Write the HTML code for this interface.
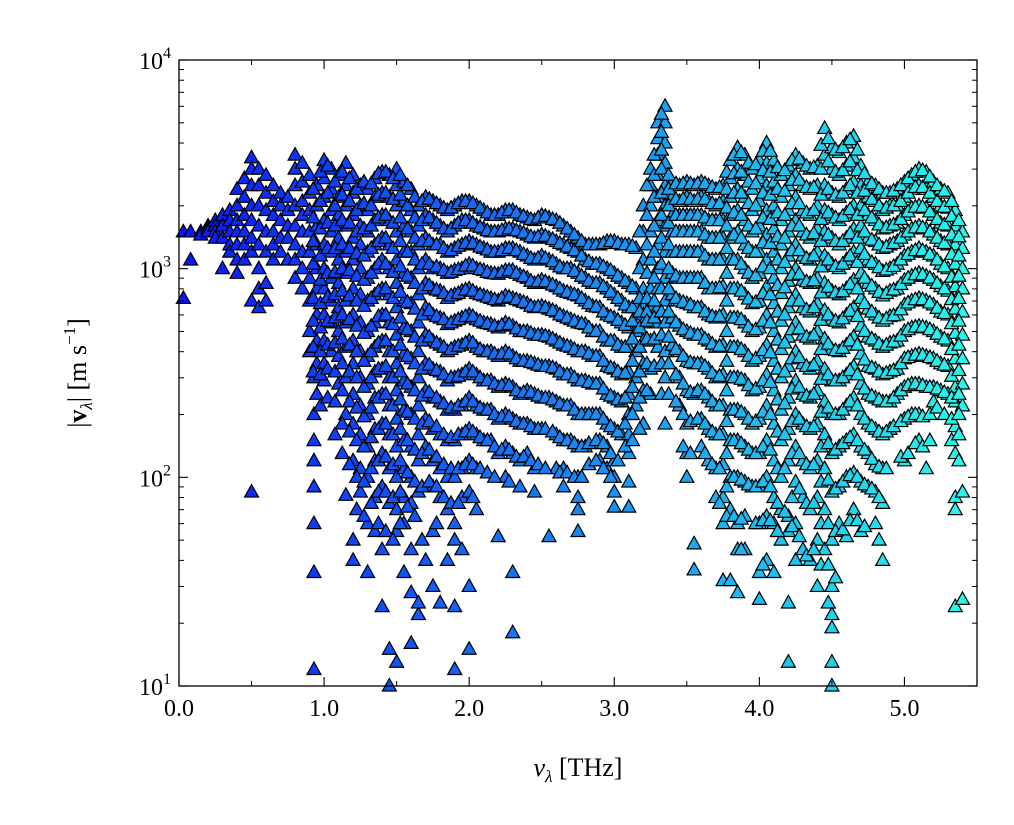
<!DOCTYPE html>
<html><head><meta charset="utf-8"><style>
html,body{margin:0;padding:0;background:#fff;}
svg{display:block;font-family:"Liberation Serif",serif;}
</style></head><body>
<svg id="chart" width="1014" height="825" viewBox="0 0 1014 825" xmlns="http://www.w3.org/2000/svg">
<rect width="1014" height="825" fill="#fff"/>
<g id="marks"></g>
<g id="axes"></g>
</svg>
<script>
const freqCols=[0.03,0.08,0.15,0.2,0.25,0.3,0.35,0.4,0.45,0.5,0.55,0.6,0.65,0.7,0.75,0.8,0.85,0.9,0.93,0.95,1.0,1.05,1.1,1.15,1.2,1.25,1.3,1.35,1.4,1.45,1.5,1.55,1.6,1.65,1.7,1.75,1.8,1.85,1.9,1.95,2.0,2.05,2.1,2.15,2.2,2.25,2.3,2.35,2.4,2.45,2.5,2.55,2.6,2.65,2.7,2.75,2.8,2.85,2.9,2.95,3.0,3.05,3.1,3.15,3.2,3.25,3.3,3.35,3.4,3.45,3.5,3.55,3.6,3.65,3.7,3.75,3.8,3.85,3.9,3.95,4.0,4.05,4.1,4.15,4.2,4.25,4.3,4.35,4.4,4.45,4.5,4.55,4.6,4.65,4.7,4.75,4.8,4.85,4.9,4.95,5.0,5.05,5.1,5.15,5.2,5.25,5.3,5.35,5.4];
const speedCols=[
[720,1500],[1100,1500],[1500,1450],[1600,1550,1500],[1700,1600,1500,1400],[1800,1600,1400,1000],
[1900,1700,1500,1300,1200],[2400,2000,1700,1500,1300,1100,950],[2700,2200,1800,1500,1300,1100],
[3400,3000,2500,2000,1700,1400,1200,85,700],[3000,2500,2000,1600,1300,1000,800,650],
[2800,2300,1900,1500,1200,850,700],[2500,2100,1800,1500,1300,1100],[2300,2000,1700,1400,1200],
[2200,1900,1600,1400,1100],[3500,3000,2500,2000,1600,1300,1100,900],[3200,2600,2100,1800,1500,1200,1000,800],
[2800,2300,1900,1500,1200,900,700,500,400],[150,120,90,60,35,12,300,200],
[2500,2000,1600,1300,1000,800,600,450,350,250],[3300,2700,2200,1700,1300,1000,800,600,450,350,290],
[3000,2400,1900,1500,1200,900,700,550,400],[2800,2200,1800,1400,1100,850,650,500,380,280],
[3200,2500,2000,1600,1200,950,700,550,420,300,200,82],[2800,2300,1800,1400,1100,800,600,450,350,250,180,120,50,40],
[2500,2000,1600,1300,1000,750,550,400,300,220,160,110,85],[2400,1900,1500,1200,900,700,500,380,280,200,140,100,60,35],
[2700,2200,1700,1300,1000,750,550,420,320,240,170,120,80,55],[2900,2300,1800,1400,1100,800,600,450,330,250,180,130,90,45,24],
[2800,2200,1700,1300,1000,750,550,400,300,220,160,110,75,15,10],[3000,2500,2000,1500,1100,850,650,480,350,260,190,140,100,70,55,13],
[2600,2100,1600,1200,950,700,520,390,290,210,150,110,80,60,35],[2400,1900,1500,1200,900,680,500,370,270,200,140,100,75,45,28,16],
[2000,1600,1300,1000,750,550,400,300,220,160,120,85,22,25],[2200,1800,1400,1100,850,650,480,350,260,190,140,40],
[2100,1700,1300,1000,800,600,450,330,240,170,120,90,55,30],[2000,1600,1300,1000,780,580,430,320,230,160,110,80,25],
[1900,1500,1200,950,720,540,400,290,210,150,100,70,40],[2000,1600,1250,980,750,560,420,300,210,150,100,60,50,24,12],
[2100,1700,1300,1000,780,580,430,310,220,160,110,80,45],[2100,1700,1350,1050,800,600,450,330,240,170,120,85,30,15],
[2000,1600,1300,1000,760,570,420,310,220,160,110,70],[1900,1550,1250,980,740,550,400,290,210,150],
[1800,1500,1200,950,720,540,400,290,210,150],[1800,1500,1200,940,700,520,380,270,190,130,52],
[1900,1550,1250,980,740,550,400,280,200,140,100],[1900,1550,1250,980,720,530,380,270,190,130,35,18],
[1800,1500,1200,930,700,500,360,250,180,120,90],[1750,1450,1150,900,680,500,360,260,180,130],
[1700,1400,1100,850,650,480,350,250,170,110,85],[1800,1450,1150,880,660,480,340,240,170],
[1750,1400,1100,850,640,470,340,240,52],[1700,1350,1050,820,620,450,330,230,160,110],
[1600,1300,1000,780,590,430,310,220,150,110,90],[1500,1250,1000,760,570,420,310,220,150],
[1400,1200,950,740,550,400,290,200,140,100,80,70,55],[1300,1100,900,700,540,400,290,200,140],
[1300,1050,850,660,500,380,280,200],[1300,1050,850,650,500,380,280,200,150,120],
[1350,1000,800,600,450,340,250,180,140,110],[1350,950,750,580,450,330,240,170,120,100,85,72],
[1300,900,700,550,420,310,230,160],[1300,850,650,520,420,320,250,200,160,130,95,72],
[1250,800,650,600,500,400,300,220],[2000,1500,1100,800,650,600,550,450,350,260,180],
[3000,2500,2000,1500,1100,800,650,580,450,330,250],[5000,4200,3500,2800,2200,1700,1300,1000,800,650,550,420],
[6000,5000,4000,3200,2500,2000,1600,1200,900,700,550,400,300,180],[2600,2200,1800,1500,1200,950,750,580,430],
[2500,2100,1800,1500,1200,900,700,530,400,300,220],[2600,2200,1800,1500,1200,900,680,500,360,260,180,130,100],
[2500,2100,1800,1500,1200,900,650,480,350,250,36,48],[2600,2200,1800,1500,1200,900,650,480,350,260,190,140],
[2500,2100,1700,1400,1100,800,600,450,330,240,170,120],[2400,2000,1700,1400,1100,800,580,420,300,220,160,110,80],
[2500,2100,1700,1400,1100,820,600,430,310,220,160,115,80,60,32],[3300,2700,2200,1800,1400,1100,800,580,420,300,210,150,100,70,32],
[3800,3000,2400,1900,1500,1100,800,580,420,300,210,150,100,60,45,28],[3500,2800,2200,1700,1300,1000,750,550,400,290,200,140,95,65,45],
[3000,2400,1900,1500,1200,900,680,500,360,260,180,130,90],[3300,2700,2100,1600,1200,950,700,520,380,270,190,130,90,60,35,26],
[4000,3200,2500,1900,1450,1100,820,600,430,310,220,150,100,65,40],[3300,2600,2000,1550,1200,900,680,500,360,260,180,120,80,60,35],
[2800,2200,1700,1300,1000,760,560,410,300,210,150,100,70,50],[3100,2500,1900,1500,1150,870,650,470,340,240,170,120,65,55,13,25],
[3500,2800,2200,1700,1300,1000,750,550,400,290,200,140,95,60,40],[3200,2500,1900,1500,1150,880,650,480,350,250,180,120,80,45],
[3000,2400,1800,1400,1100,850,620,460,330,240,170,110,70,40],[3100,2500,2000,1550,1200,900,680,500,360,260,180,120,80,50,30],
[4700,3500,2500,1900,1500,1150,850,630,460,330,230,160,110,70,45],[3800,3000,2300,1800,1400,1050,780,570,410,290,200,130,85,50,30,22,19,13,10],
[3600,2800,2200,1700,1300,1000,750,550,400,290,200,140,90,60],[4000,3100,2400,1850,1400,1100,800,600,430,310,220,150,100,52],
[4300,3400,2600,2000,1550,1200,880,650,470,340,240,160,105,70],[3100,2500,2000,1600,1250,950,720,530,390,280,200,140,95,55],
[2600,2200,1800,1400,1100,850,640,470,340,250,180,130,90],[2500,2100,1700,1350,1050,800,600,450,330,240,170,115,85,60],
[2300,1900,1550,1250,970,740,560,420,310,230,160,110,75,40],[2300,2000,1600,1300,1000,780,590,440,320,230,170],
[2400,2000,1650,1350,1050,800,600,450,330,250],[2600,2200,1800,1450,1150,880,670,500,370,270,190,120],
[2800,2400,1950,1550,1200,920,700,520,380,280,200],[3000,2500,2000,1600,1250,950,720,530,390,280,200,150],
[2900,2400,1950,1550,1200,920,700,520,380,270,110],[2600,2200,1800,1450,1150,880,670,500,370,270,230],
[2400,2000,1650,1350,1050,820,620,470,350,260],[2300,1950,1600,1300,1000,780,600,450,340,250],
[1900,1600,1300,1050,820,640,490,370,270,230,175,130,80,70,24],[1500,1250,1000,800,620,480,370,280,220,85,26]
];
const freqColsB=[0.925,0.975,1.025,1.075,1.125,1.175,1.225,1.275,1.325,1.375,1.425,1.475,1.525,1.575,1.625,1.675,1.725,1.775,1.825,1.875,1.925,1.975,2.025,2.075,2.125,2.175,2.225,2.275,2.325,2.375,2.425,2.475,2.525,2.575,2.625,2.675,2.725,2.775,2.825,2.875,2.925,2.975,3.025,3.075,3.125,3.175,3.225,3.275,3.325,3.375,3.425,3.475,3.525,3.575,3.625,3.675,3.725,3.775,3.825,3.875,3.925,3.975,4.025,4.075,4.125,4.175,4.225,4.275,4.325,4.375,4.425,4.475,4.525,4.575,4.625,4.675,4.725,4.775,4.825,4.875,4.925,4.975,5.025,5.075,5.125,5.175,5.225,5.275,5.325,5.375];
const speedColsB=[
[2400,1750,1350,1050,720,560,420,320],[2900,2100,1550,1150,880,680,520,400,310,220],[3100,2300,1650,1250,950,730,560,430,330,240],
[2600,2000,1600,1250,960,750,580,440,320,230,160],[2900,2250,1700,1300,1000,780,600,460,350,260,180,130],[2700,2100,1650,1250,980,740,570,430,320,230,165,115],
[2400,1900,1500,1180,920,700,530,400,300,215,150,100,70],[2600,2050,1550,1150,880,660,490,360,270,195,140,95,65],[2550,2000,1600,1250,950,720,530,400,300,215,155,110,75],
[2850,2250,1750,1350,1050,780,590,440,330,240,170,120,85,60],[2900,2300,1800,1400,1050,800,600,450,340,250,180,125,85,55],[2700,2150,1650,1250,960,720,540,400,300,220,160,115,80,50],
[2800,2250,1750,1350,1020,770,580,430,320,235,170,120,85,60],[2500,2000,1550,1200,920,690,510,380,280,205,150,105,72],[2200,1750,1400,1100,850,640,470,350,260,190,135,95,65],
[2100,1700,1350,1050,800,600,450,330,245,180,130,90,50],[2150,1750,1350,1050,830,630,470,345,255,185,135,95],[2050,1650,1300,1020,790,590,440,325,240,175,125,90,60],
[1950,1550,1250,980,760,570,420,310,225,160,115,80],[1950,1550,1220,960,740,550,410,300,215,155,110,75],[2050,1650,1280,990,760,570,425,305,220,160,110,75],
[2100,1700,1320,1030,790,590,440,320,230,165,115],[2050,1650,1320,1030,780,590,440,320,230,165,115,80],[1950,1580,1270,990,750,560,410,300,215,155,110],
[1850,1520,1230,960,730,545,400,290,210,150,105],[1800,1500,1200,945,710,530,390,280,200,140,100],[1850,1520,1220,960,720,535,390,275,195,135],
[1900,1550,1250,980,730,540,390,275,195,135,95],[1850,1520,1220,950,710,515,370,260,185,125],[1780,1480,1170,915,690,500,360,255,180,125],
[1720,1420,1120,870,660,490,355,255,175,120],[1750,1420,1120,865,655,480,345,245,170,115],[1780,1430,1120,865,650,475,340,240,170,110],
[1720,1380,1080,835,630,460,335,235,165],[1650,1320,1020,800,600,440,320,225,155,105],[1550,1270,1000,770,580,425,310,220,150,105],
[1450,1220,970,750,560,410,300,210,145,100],[1350,1150,920,720,545,400,290,200,140,100],[1300,1080,870,680,520,390,285,200,145,115],
[1300,1050,850,655,500,380,280,200,150,120],[1320,1020,820,620,470,360,265,190,145,110],[1350,980,770,590,450,335,245,175,130,100],
[1320,920,720,565,430,320,235,165,120],[1300,870,670,535,420,315,240,180,140],[1280,820,650,560,460,360,270,200,150],
[1500,1000,720,620,520,420,320,240,170],[2500,1800,1300,950,720,620,560,460,350,260],[3500,2800,2200,1600,1200,900,700,580,460,340],
[5500,4500,3700,3000,2300,1800,1400,1050,800,620,480,350,250],[2800,2400,2000,1650,1300,1000,800,620,470,350,250],[2550,2150,1800,1500,1200,920,720,550,410,310,230],
[2550,2150,1800,1500,1200,900,690,510,380,280,200,140],[2550,2150,1800,1500,1200,900,670,490,355,255,185,130],[2550,2150,1800,1500,1200,900,650,480,350,260,190],
[2550,2150,1750,1450,1150,850,620,460,340,250,180,130],[2450,2050,1700,1400,1100,800,590,435,315,230,165,115],[2450,2050,1700,1400,1100,810,590,425,305,220,160,110,75],
[2900,2400,1950,1600,1250,950,700,500,360,260,185,130,90,65],[3500,2850,2300,1850,1450,1100,800,580,420,300,210,150,100,65],[3600,2900,2300,1800,1400,1050,780,570,410,295,205,145,97,63,45],
[3200,2600,2050,1600,1250,950,715,525,380,275,190,135,92],[3150,2550,2000,1550,1200,925,690,510,370,265,185,130,90,60],[3650,2950,2300,1750,1330,1020,760,560,405,290,205,140,95,62,38],
[3650,2900,2250,1720,1320,1000,750,550,395,285,200,135,90,62],[3050,2400,1850,1420,1100,830,620,455,330,235,165,110,75,55],[2950,2350,1800,1400,1070,810,600,440,320,225,160,110,68],
[3300,2650,2050,1600,1220,930,700,510,370,265,185,130,80,58],[3350,2650,2050,1600,1220,940,700,515,375,270,190,130,88,52],[3100,2450,1850,1450,1120,865,635,470,340,245,175,115,75,42],
[3050,2450,1900,1470,1150,875,650,480,345,250,175,115,75,45],[3900,3000,2250,1720,1350,1020,765,565,410,295,205,140,95,60,38],[4200,3250,2400,1850,1450,1100,815,600,435,310,215,145,97,60,38,25],
[3700,2900,2250,1750,1350,1025,765,560,405,290,200,135,88,55,33],[3800,2950,2300,1780,1350,1050,775,575,415,300,210,145,95,56],[4150,3250,2500,1920,1470,1150,840,625,450,325,230,155,102,62],
[3700,2950,2300,1800,1400,1070,800,590,430,310,220,150,100,62],[2850,2350,1900,1500,1170,900,680,500,365,265,190,135,92,58],[2550,2150,1750,1370,1070,825,620,460,335,245,175,122,88],
[2400,2000,1620,1300,1010,770,580,435,320,235,165,112,80,50],[2300,1950,1570,1270,985,760,575,430,315,230,165,110],[2350,2000,1620,1320,1025,790,595,445,325,240,175],
[2500,2100,1720,1400,1100,840,635,475,350,260,185,125],[2700,2300,1870,1500,1170,900,685,510,375,275,195,130],[2900,2450,1970,1570,1220,935,710,525,385,280,200,145],
[2950,2450,1970,1570,1220,935,710,525,385,275,195,140],[2750,2300,1870,1500,1170,900,685,510,375,270,200,150],[2500,2100,1720,1400,1100,850,645,485,360,265,215],
[2350,1970,1620,1320,1020,800,610,460,345,255,200],[2100,1780,1450,1170,910,710,545,410,305,240,190,150],[1700,1420,1150,920,720,560,430,325,250,200,160,120]
];
const xTicks=[0,1,2,3,4,5];
const xTickLabels=["0.0","1.0","2.0","3.0","4.0","5.0"];
const yExps=[1,2,3,4];

const L=179,R=977,T=60,B=686,XMAX=5.5,YMIN=1,YMAX=4;
const NS="http://www.w3.org/2000/svg";
function xs(v){return L+(v/XMAX)*(R-L);}
function ys(v){return B-(Math.log10(v)-YMIN)/(YMAX-YMIN)*(B-T);}
function col(x){const t=Math.min(1,x/XMAX);const r=Math.round(10+30*t),g=Math.round(20+230*t),b=Math.round(250-15*t);return `rgb(${r},${g},${b})`;}
const marks=document.getElementById('marks');
function drawSet(fs,ss){
  fs.forEach((f,i)=>{
    ss[i].forEach(s=>{
      if(s<10||s>10000)return;
      const cx=xs(f),cy=ys(s);
      const p=document.createElementNS(NS,'path');
      p.setAttribute('d',`M${cx},${cy-7.5}L${cx+7},${cy+5}L${cx-7},${cy+5}Z`);
      p.setAttribute('fill',col(f));p.setAttribute('stroke','#000');p.setAttribute('stroke-width','1.2');
      
      
      marks.appendChild(p);
    });
  });
}
drawSet(freqCols,speedCols);
drawSet(freqColsB,speedColsB);
const ax=document.getElementById('axes');
function el(tag,attrs,text){const e=document.createElementNS(NS,tag);for(const k in attrs)e.setAttribute(k,attrs[k]);if(text!==undefined)e.textContent=text;ax.appendChild(e);return e;}
const frame=el('rect',{x:L,y:T,width:R-L,height:B-T,fill:'none',stroke:'#000','stroke-width':1.3});


xTicks.forEach((v,i)=>{
  const x=xs(v);
  el('line',{x1:x,y1:B,x2:x,y2:B-9,stroke:'#000','stroke-width':1.1});
  el('line',{x1:x,y1:T,x2:x,y2:T+9,stroke:'#000','stroke-width':1.1});
  const t=el('text',{x:x,y:B+30,'text-anchor':'middle','font-size':24},xTickLabels[i]);
  
  
});
for(let v=0.5;v<XMAX;v+=1){const x=xs(v);
  el('line',{x1:x,y1:B,x2:x,y2:B-5,stroke:'#000','stroke-width':1});
  el('line',{x1:x,y1:T,x2:x,y2:T+5,stroke:'#000','stroke-width':1});}
yExps.forEach(e=>{
  const y=ys(Math.pow(10,e));
  el('line',{x1:L,y1:y,x2:L+9,y2:y,stroke:'#000','stroke-width':1.1});
  el('line',{x1:R,y1:y,x2:R-9,y2:y,stroke:'#000','stroke-width':1.1});
  const t=el('text',{x:L-8,y:y+9,'text-anchor':'end','font-size':24});
  
  
  const a=document.createElementNS(NS,'tspan');a.textContent='10';t.appendChild(a);
  const b=document.createElementNS(NS,'tspan');b.setAttribute('dy','-11');b.setAttribute('font-size','16');b.textContent=String(e);t.appendChild(b);
  if(e<4){for(let m=2;m<10;m++){const yy=ys(m*Math.pow(10,e));
    el('line',{x1:L,y1:yy,x2:L+5,y2:yy,stroke:'#000','stroke-width':1});
    el('line',{x1:R,y1:yy,x2:R-5,y2:yy,stroke:'#000','stroke-width':1});}}
});
const xl=el('text',{x:(L+R)/2,y:776,'text-anchor':'middle','font-size':26});


xl.innerHTML='<tspan font-style="italic">ν</tspan><tspan font-style="italic" font-size="17" dy="6">λ</tspan><tspan dy="-6"> [THz]</tspan>';
const yl=el('text',{x:0,y:0,'text-anchor':'middle','font-size':26,transform:'translate(86,373) rotate(-90)'});


yl.innerHTML='|<tspan font-weight="bold">v</tspan><tspan font-style="italic" font-size="17" dy="6">λ</tspan><tspan dy="-6">| [m s</tspan><tspan font-size="17" dy="-11">−1</tspan><tspan dy="11">]</tspan>';
</script>
</body></html>
